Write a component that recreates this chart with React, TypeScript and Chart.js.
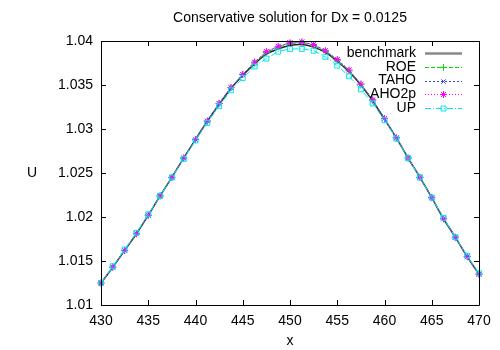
import React, { useEffect, useRef } from "react";
import { Chart, registerables } from "chart.js";
import { drawPoint } from "chart.js/helpers";

Chart.register(...registerables);

const xs = [430, 431.25, 432.5, 433.75, 435, 436.25, 437.5, 438.75, 440, 441.25, 442.5, 443.75, 445, 446.25, 447.5, 448.75, 450, 451.25, 452.5, 453.75, 455, 456.25, 457.5, 458.75, 460, 461.25, 462.5, 463.75, 465, 466.25, 467.5, 468.75, 470];

const benchmark = [1.0125, 1.0143, 1.0162, 1.0181, 1.0202, 1.0224, 1.0245, 1.0267, 1.0288, 1.0309, 1.0328, 1.0346, 1.0361, 1.0374, 1.0385, 1.0391, 1.0395, 1.0396, 1.0393, 1.0387, 1.0377, 1.0365, 1.0350, 1.0332, 1.0311, 1.0290, 1.0267, 1.0245, 1.0222, 1.0198, 1.0177, 1.0155, 1.0135];
const roe = [1.0125, 1.0143, 1.0162, 1.0181, 1.0202, 1.0224, 1.0245, 1.0267, 1.0288, 1.0309, 1.0329, 1.0347, 1.0362, 1.0375, 1.0387, 1.0393, 1.0397, 1.0398, 1.0395, 1.0388, 1.0378, 1.0366, 1.0351, 1.0333, 1.0312, 1.0290, 1.0267, 1.0245, 1.0222, 1.0198, 1.0177, 1.0155, 1.0135];
const taho = [1.0125, 1.0143, 1.0162, 1.0181, 1.0202, 1.0224, 1.0245, 1.0267, 1.0288, 1.0309, 1.0329, 1.0347, 1.0362, 1.0376, 1.0388, 1.0394, 1.0398, 1.0399, 1.0396, 1.0389, 1.0379, 1.0367, 1.0351, 1.0333, 1.0312, 1.0290, 1.0267, 1.0245, 1.0222, 1.0198, 1.0177, 1.0155, 1.0135];
const aho2p = [1.0125, 1.0143, 1.0162, 1.0181, 1.0202, 1.0224, 1.0245, 1.0267, 1.0288, 1.0309, 1.0329, 1.0347, 1.0362, 1.0376, 1.0388, 1.0394, 1.0398, 1.0399, 1.0396, 1.0389, 1.0379, 1.0367, 1.0351, 1.0333, 1.0312, 1.0290, 1.0267, 1.0245, 1.0222, 1.0198, 1.0177, 1.0155, 1.0135];
const up = [1.0125, 1.0144, 1.0163, 1.0182, 1.0203, 1.0224, 1.0245, 1.0266, 1.0287, 1.0307, 1.0326, 1.0344, 1.0358, 1.0371, 1.0380, 1.0388, 1.0391, 1.0391, 1.0389, 1.0382, 1.0372, 1.0360, 1.0345, 1.0329, 1.0310, 1.0289, 1.0267, 1.0245, 1.0222, 1.0199, 1.0177, 1.0156, 1.0136];

const seriesNames = ["benchmark", "ROE", "TAHO", "AHO2p", "UP"];
const titleText = "Conservative solution for Dx = 0.0125";
const xTitle = "x";
const yTitle = "U";
const xTickValues = [430, 435, 440, 445, 450, 455, 460, 465, 470];
const yTickValues = [1.01, 1.015, 1.02, 1.025, 1.03, 1.035, 1.04];

const FAMILY = "'Liberation Sans', Arial, sans-serif";
const FONT = "14px " + FAMILY;

type Style = { color: string; width: number; dash: number[]; point: string | false; radius: number };
const styles: Style[] = [
  { color: "#222222", width: 1.5, dash: [], point: false, radius: 0 },
  { color: "#00e000", width: 1, dash: [4, 2], point: "cross", radius: 3.5 },
  { color: "#3344ff", width: 1, dash: [2, 2], point: "crossRot", radius: 3 },
  { color: "#ff00ff", width: 1, dash: [1, 2], point: "star", radius: 3.5 },
  { color: "#00e8e8", width: 1, dash: [6, 2, 1, 2], point: "rect", radius: 3.5 },
];

const seriesValues = [benchmark, roe, taho, aho2p, up];

const decorPlugin = {
  id: "decor",
  afterDraw(chart: any) {
    const { ctx, chartArea } = chart;
    const { left, right, top, bottom } = chartArea;
    const xScale = chart.scales.x;
    const yScale = chart.scales.y;
    ctx.save();
    ctx.strokeStyle = "#000";
    ctx.lineWidth = 1;
    ctx.setLineDash([]);
    ctx.beginPath();
    ctx.rect(Math.round(left) + 0.5, Math.round(top) + 0.5, Math.round(right - left), Math.round(bottom - top));
    const tl = 5;
    xTickValues.forEach((v) => {
      const px = Math.round(xScale.getPixelForValue(v)) + 0.5;
      ctx.moveTo(px, bottom); ctx.lineTo(px, bottom - tl);
      ctx.moveTo(px, top); ctx.lineTo(px, top + tl);
    });
    yTickValues.forEach((v) => {
      const py = Math.round(yScale.getPixelForValue(v)) + 0.5;
      ctx.moveTo(left, py); ctx.lineTo(left + tl, py);
      ctx.moveTo(right, py); ctx.lineTo(right - tl, py);
    });
    ctx.stroke();

    ctx.fillStyle = "#000";
    ctx.font = FONT;
    ctx.textAlign = "center";
    ctx.textBaseline = "middle";
    ctx.fillText(titleText, (left + right) / 2, 18);
    ctx.fillText(xTitle, (left + right) / 2, 341);
    ctx.fillText(yTitle, 32, (top + bottom) / 2);

    // legend
    const textRight = 416;
    const lineStart = 425;
    const lineEnd = 462;
    const y0 = 53;
    const dy = 13.8;
    seriesNames.forEach((name, i) => {
      const y = y0 + i * dy;
      const s = styles[i];
      ctx.fillStyle = "#000";
      ctx.textAlign = "right";
      ctx.fillText(name, textRight, y);
      ctx.strokeStyle = i === 0 ? "#888" : s.color;
      ctx.lineWidth = i === 0 ? 2.5 : s.width;
      ctx.setLineDash(s.dash);
      ctx.beginPath();
      ctx.moveTo(lineStart, Math.round(y) + 0.5);
      ctx.lineTo(lineEnd, Math.round(y) + 0.5);
      ctx.stroke();
      ctx.setLineDash([]);
      if (s.point) {
        ctx.strokeStyle = s.color;
        ctx.fillStyle = s.point === "star" ? s.color : "rgba(0,0,0,0)";
        ctx.lineWidth = 1;
        drawPoint(ctx, { pointStyle: s.point, radius: s.radius, borderWidth: 1, rotation: 0 } as any, (lineStart + lineEnd) / 2, Math.round(y) + 0.5);
      }
    });
    ctx.restore();
  },
};

export default function App() {
  const ref = useRef<HTMLCanvasElement | null>(null);
  useEffect(() => {
    document.body.style.margin = "0";
    const canvas = ref.current;
    if (!canvas) return;
    const datasets = seriesNames.map((name, i) => {
      const s = styles[i];
      return {
        label: name,
        data: xs.map((x, j) => ({ x, y: seriesValues[i][j] })),
        borderColor: s.color,
        backgroundColor: s.point === "star" ? s.color : "rgba(0,0,0,0)",
        borderWidth: s.width,
        borderDash: s.dash,
        pointStyle: s.point,
        pointRadius: s.radius,
        pointBorderWidth: 1,
        pointBorderColor: s.color,
        pointBackgroundColor: s.point === "star" ? s.color : "rgba(0,0,0,0)",
        tension: i === 0 ? 0.4 : 0,
        clip: false as any,
        order: 5 - i,
      };
    });
    const chart = new Chart(canvas, {
      type: "line",
      data: { datasets },
      options: {
        animation: false,
        responsive: false,
        maintainAspectRatio: false,
        devicePixelRatio: 1,
        layout: { padding: { top: 41, right: 21, left: 0, bottom: 0 } },
        plugins: { legend: { display: false }, tooltip: { enabled: false }, title: { display: false } },
        scales: {
          x: {
            type: "linear",
            min: 430,
            max: 470,
            afterBuildTicks: (scale: any) => { scale.ticks = xTickValues.map((v) => ({ value: v })); },
            afterFit: (scale: any) => { scale.height = 45; },
            grid: { display: false, drawTicks: false },
            border: { display: false },
            ticks: { padding: 8, color: "#000", font: { family: FAMILY, size: 14 }, maxRotation: 0, callback: (v: any) => String(v) },
          },
          y: {
            type: "linear",
            min: 1.01,
            max: 1.04,
            afterBuildTicks: (scale: any) => { scale.ticks = yTickValues.map((v) => ({ value: v })); },
            afterFit: (scale: any) => { scale.width = 101; },
            grid: { display: false, drawTicks: false },
            border: { display: false },
            ticks: { padding: 8, color: "#000", font: { family: FAMILY, size: 14 }, callback: (v: any) => String(Number(Number(v).toFixed(3))) },
          },
        },
      },
      plugins: [decorPlugin],
    } as any);
    return () => chart.destroy();
  }, []);
  return <canvas ref={ref} width={500} height={350} style={{ display: "block", width: 500, height: 350 }} />;
}
